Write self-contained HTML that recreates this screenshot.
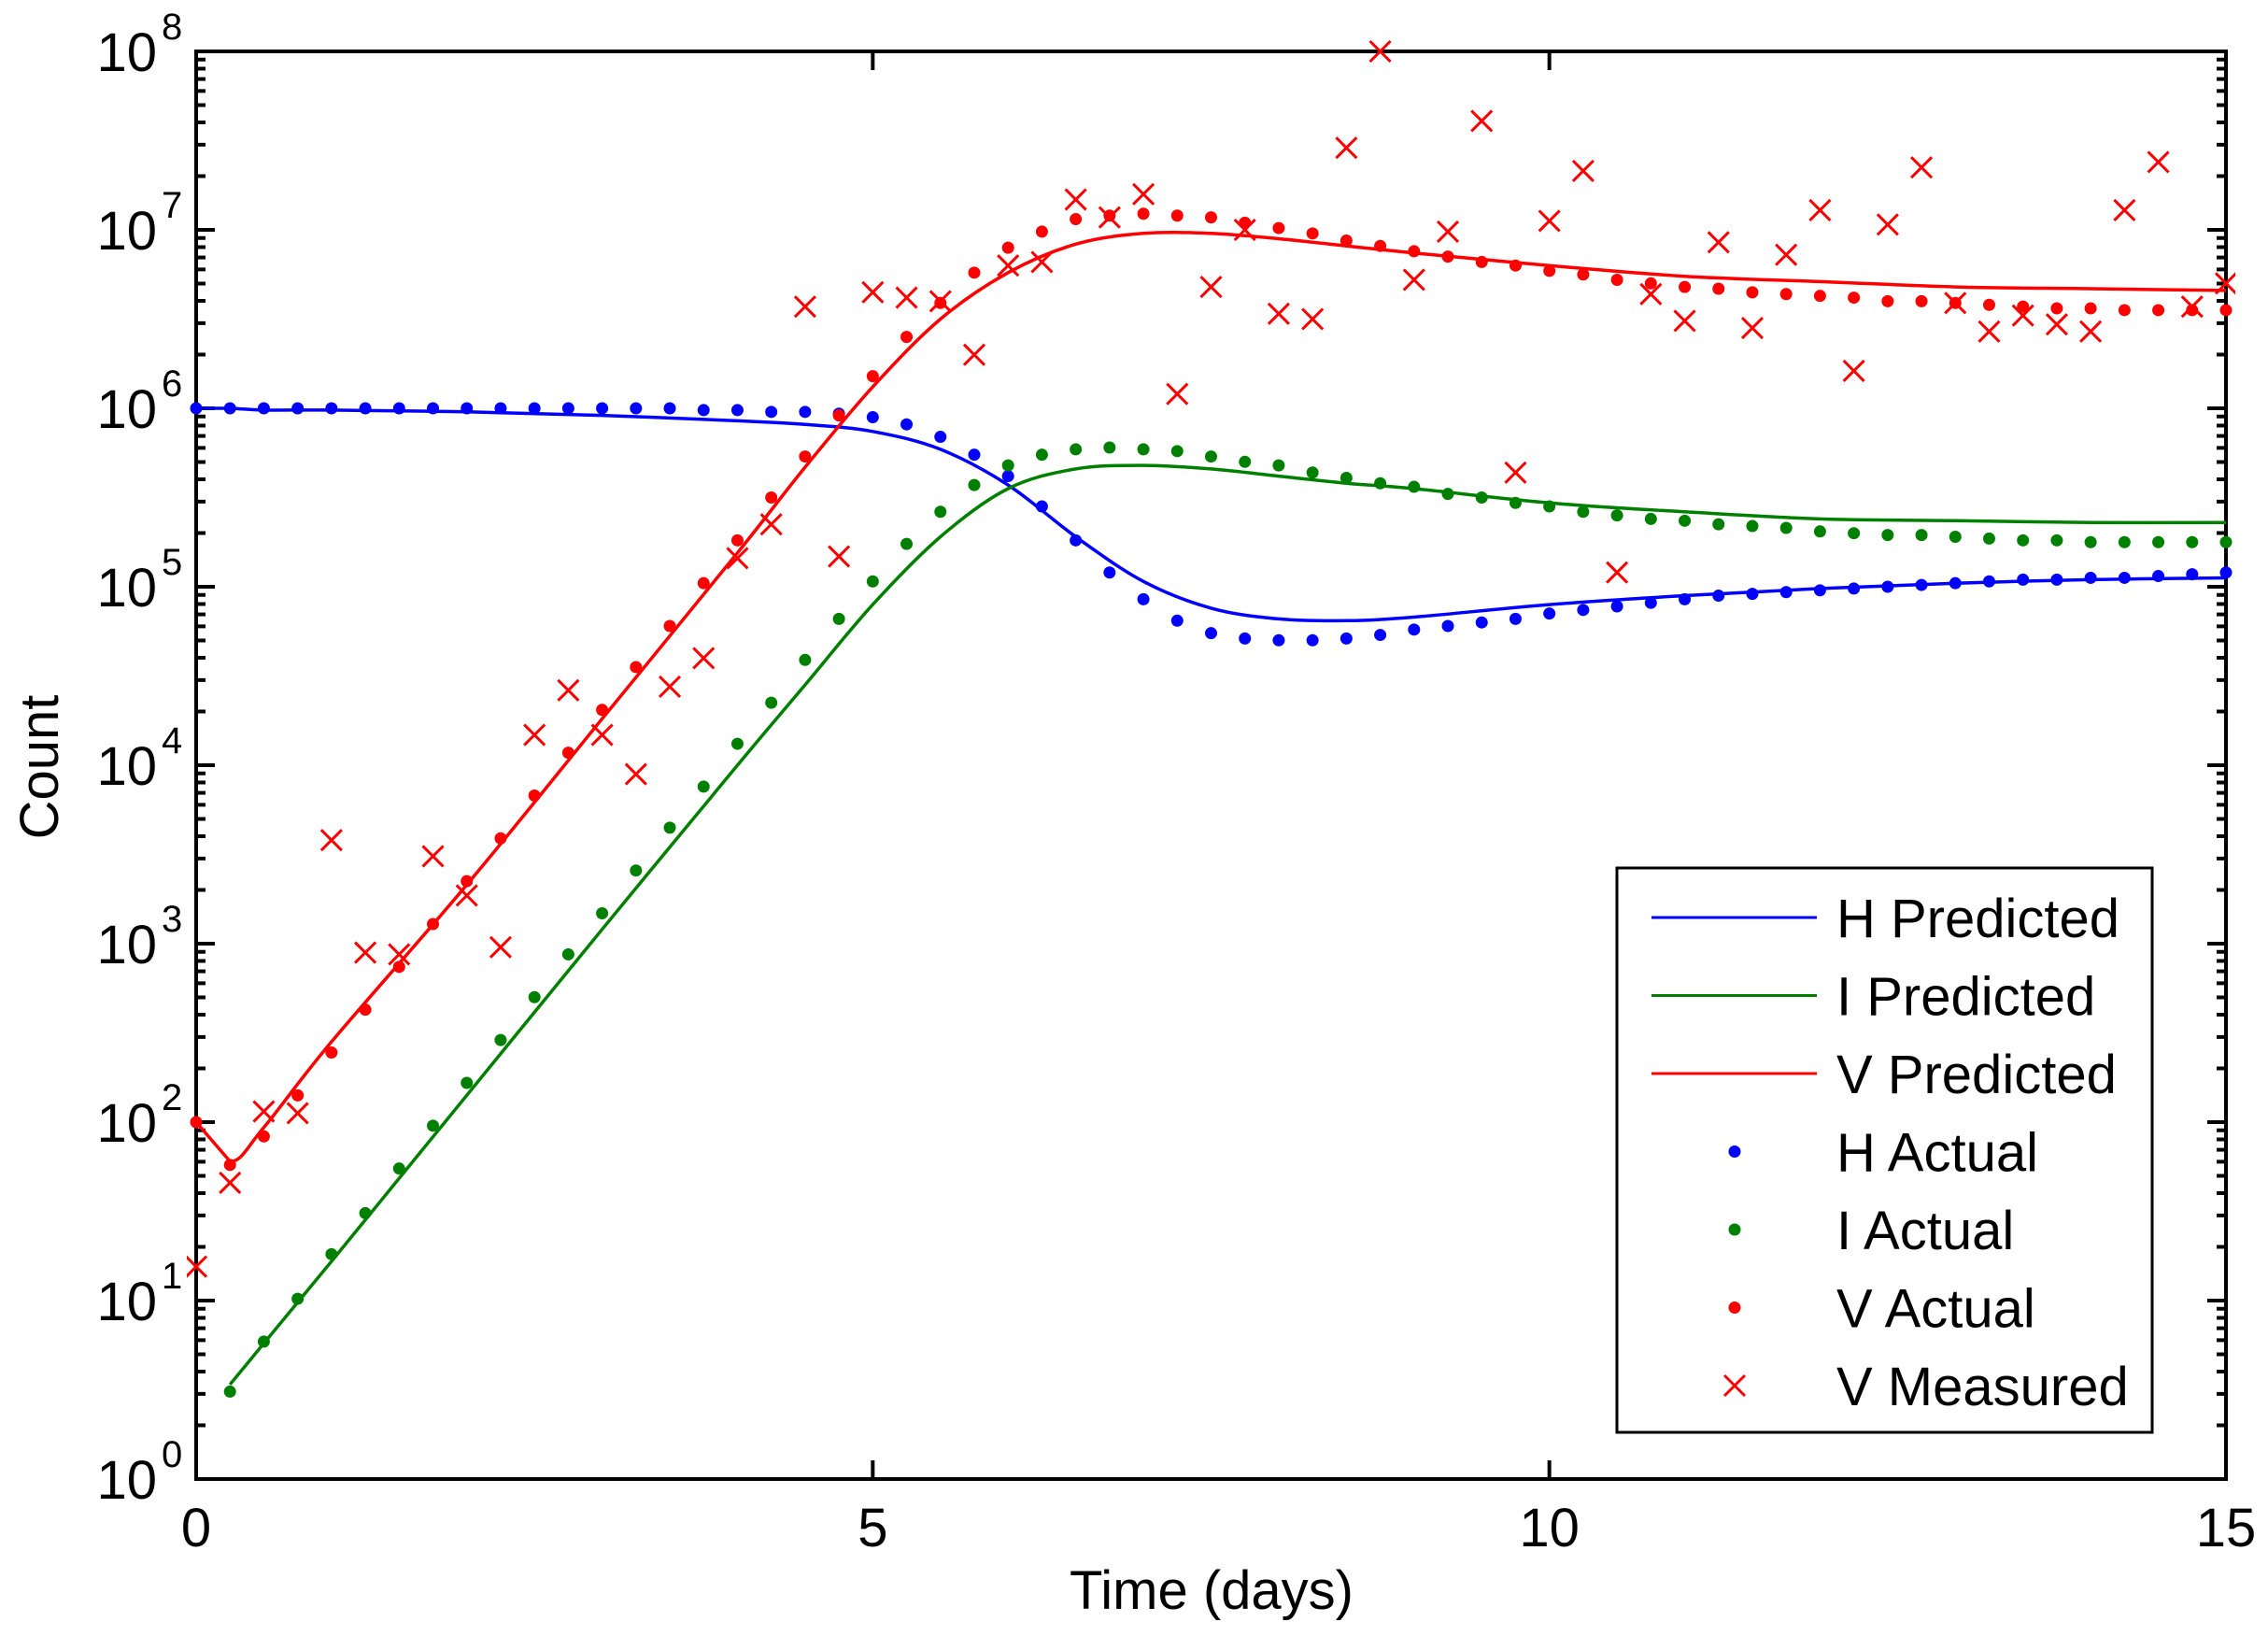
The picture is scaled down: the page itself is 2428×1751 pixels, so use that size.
<!DOCTYPE html>
<html><head><meta charset="utf-8"><style>
html,body{margin:0;padding:0;background:#fff;}
svg{display:block;font-family:"Liberation Sans",Arial,sans-serif;}
</style></head><body>
<svg id="chart" width="2428" height="1751" viewBox="0 0 2428 1751" xmlns="http://www.w3.org/2000/svg">
<rect x="0" y="0" width="2428" height="1751" fill="#fff"/>
<g id="axes"></g>
<g id="series"></g>
<g id="legend"></g>
<text x="1297" y="1722" font-size="58" text-anchor="middle">Time (days)</text>
<text x="0" y="0" font-size="58" text-anchor="middle" transform="translate(62,821) rotate(-90)">Count</text>
</svg>
<script>
// ---- data (log10 of counts) ----
const tStep = 0.25;
const xTicks = [0, 5, 10, 15];
const yDecades = [0, 1, 2, 3, 4, 5, 6, 7, 8];
const predT = [0,0.25,0.5,1,2,3,4,4.5,5,5.5,6,6.5,7,7.5,8,8.5,9,10,11,12,13,14,15];
const hPredLog = [6.0,6.0,5.99,5.99,5.98,5.96,5.93,5.91,5.87,5.77,5.57,5.28,5.03,4.88,4.82,4.81,4.83,4.90,4.95,4.99,5.02,5.04,5.05];
const iPredLog = [null,0.53,0.76,1.22,2.15,3.08,4.0,4.45,4.9,5.28,5.55,5.66,5.68,5.66,5.62,5.58,5.55,5.47,5.42,5.38,5.37,5.36,5.36];
const vPredLog = [2.0,1.78,1.97,2.45,3.33,4.26,5.19,5.67,6.12,6.5,6.76,6.92,6.98,6.98,6.95,6.91,6.87,6.80,6.74,6.71,6.68,6.67,6.66];
const hActualLog = [6.0,6.0,6.0,6.0,6.0,6.0,6.0,6.0,6.0,6.0,6.0,6.0,6.0,6.0,6.0,5.99,5.99,5.98,5.98,
 5.97,5.95,5.91,5.84,5.74,5.62,5.45,5.26,5.08,4.93,4.81,4.74,4.71,4.70,4.70,4.71,4.73,4.76,4.78,4.80,
 4.82,4.85,4.87,4.89,4.91,4.93,4.95,4.96,4.97,4.98,4.99,5.00,5.01,5.02,5.03,5.04,5.04,5.05,5.05,5.06,5.07,5.08];
const iActualLog = [null,0.49,0.77,1.01,1.26,1.49,1.74,1.98,2.22,2.46,2.70,2.94,3.17,3.41,3.65,3.88,4.12,4.35,4.59,4.82,
 5.03,5.24,5.42,5.57,5.68,5.74,5.77,5.78,5.77,5.76,5.73,5.70,5.68,5.64,5.61,5.58,5.56,5.52,5.50,5.47,
 5.45,5.42,5.40,5.38,5.37,5.35,5.34,5.33,5.31,5.30,5.29,5.29,5.28,5.27,5.26,5.26,5.25,5.25,5.25,5.25,5.25];
const vActualLog = [2.0,1.76,1.92,2.15,2.39,2.63,2.87,3.11,3.35,3.59,3.83,4.07,4.31,4.55,4.78,5.02,5.26,5.50,5.73,5.96,
 6.18,6.40,6.59,6.76,6.90,6.99,7.06,7.08,7.09,7.08,7.07,7.04,7.01,6.98,6.94,6.91,6.88,6.85,6.82,6.80,
 6.77,6.75,6.72,6.70,6.68,6.67,6.65,6.64,6.63,6.62,6.60,6.60,6.59,6.58,6.57,6.56,6.56,6.55,6.55,6.55,6.55];
const vMeasLog = [1.19,1.66,2.06,2.05,3.58,2.95,2.94,3.49,3.27,2.98,4.17,4.42,4.17,3.95,4.44,4.60,5.16,5.35,6.57,5.17,
 6.65,6.62,6.60,6.30,6.80,6.82,7.17,7.07,7.20,6.08,6.68,7.0,6.53,6.50,7.46,8.0,6.72,6.99,7.61,5.64,
 7.05,7.33,5.08,6.64,6.49,6.93,6.45,6.86,7.11,6.21,7.03,7.35,6.59,6.43,6.52,6.47,6.43,7.11,7.38,6.57,6.70];

// ---- geometry ----
const L=210, R=2383, T=55, B=1583;
const X = t => L + (t/15)*(R-L);
const Y = lg => B - (lg/8)*(B-T);
const NS='http://www.w3.org/2000/svg';
function mk(tag, attrs, parent){ const e=document.createElementNS(NS,tag); for(const k in attrs) e.setAttribute(k,attrs[k]); parent.appendChild(e); return e; }

const axes=document.getElementById('axes');
const frame=mk('rect',{x:L,y:T,width:R-L,height:B-T,fill:'none',stroke:'#000','stroke-width':4},axes);


xTicks.forEach(t=>{
  const x=X(t);
  const a=mk('line',{x1:x,y1:B,x2:x,y2:B-20,stroke:'#000','stroke-width':4},axes);
  
  
  const b=mk('line',{x1:x,y1:T,x2:x,y2:T+20,stroke:'#000','stroke-width':4},axes);
  
  
  const tx=mk('text',{x:x,y:1655,'font-size':58,'text-anchor':'middle'},axes);
  tx.textContent=String(t);
  
  
});
yDecades.forEach(d=>{
  const y=Y(d);
  [[L,1],[R,-1]].forEach(([x0,s])=>{
    const m=mk('line',{x1:x0,y1:y,x2:x0+s*20,y2:y,stroke:'#000','stroke-width':4},axes);
    
    
    if(d<8){
      for(let k=2;k<=9;k++){
        const yy=Y(d+Math.log10(k));
        const n=mk('line',{x1:x0,y1:yy,x2:x0+s*10,y2:yy,stroke:'#000','stroke-width':4},axes);
        
        
      }
    }
  });
  const lb=mk('text',{x:168,y:y+21,'font-size':58,'text-anchor':'end'},axes);
  lb.textContent='10';
  
  
  const sp=mk('text',{x:173,y:y-13,'font-size':40},axes);
  sp.textContent=String(d);
  
  
});

// ---- series ----
const series=document.getElementById('series');
const clip=mk('clipPath',{id:'pc'},document.getElementById('chart'));
mk('rect',{x:L-10,y:T-15,width:R-L+20,height:B-T+25},clip);
series.setAttribute('clip-path','url(#pc)');
function line(arr,color,name){
  const pts=[];
  predT.forEach((t,i)=>{ if(arr[i]!==null) pts.push([X(t),Y(arr[i])]); });
  let d='M'+pts[0][0].toFixed(1)+' '+pts[0][1].toFixed(1);
  for(let i=0;i<pts.length-1;i++){
    const p0=pts[Math.max(0,i-1)], p1=pts[i], p2=pts[i+1], p3=pts[Math.min(pts.length-1,i+2)];
    // keep sharp corner at the V dip (first segment) by not smoothing index 0/1 boundary
    const k=(i===0)?0:1/6, k2=(i===0)?0:1/6;
    const c1=[p1[0]+(p2[0]-p0[0])*k, p1[1]+(p2[1]-p0[1])*k];
    const c2=[p2[0]-(p3[0]-p1[0])*k2, p2[1]-(p3[1]-p1[1])*k2];
    d+=`C${c1[0].toFixed(1)} ${c1[1].toFixed(1)} ${c2[0].toFixed(1)} ${c2[1].toFixed(1)} ${p2[0].toFixed(1)} ${p2[1].toFixed(1)}`;
  }
  const p=mk('path',{d:d,fill:'none',stroke:color,'stroke-width':3.5},series);
  
  
}
function dots(arr,color,name){
  arr.forEach((v,i)=>{ if(v===null) return;
    const c=mk('circle',{cx:X(i*tStep),cy:Y(v),r:6.5,fill:color},series);
    
    
  });
}
line(hPredLog,'#0000ff','h-predicted-line');
line(iPredLog,'#008000','i-predicted-line');
line(vPredLog,'#ff0000','v-predicted-line');
dots(hActualLog,'#0000ff','h-actual-point');
dots(iActualLog,'#008000','i-actual-point');
dots(vActualLog,'#ff0000','v-actual-point');
vMeasLog.forEach((v,i)=>{
  const x=X(i*tStep), y=Y(v), s=11;
  const g=mk('path',{d:`M${x-s} ${y-s}L${x+s} ${y+s}M${x-s} ${y+s}L${x+s} ${y-s}`,stroke:'#ff0000','stroke-width':3,fill:'none'},series);
  
  
});

// ---- legend ----
const lg=document.getElementById('legend');
const box=mk('rect',{x:1731,y:929,width:573,height:604,fill:'#fff',stroke:'#000','stroke-width':3},lg);


const entries=[['H Predicted','#0000ff','line'],['I Predicted','#008000','line'],['V Predicted','#ff0000','line'],
 ['H Actual','#0000ff','dot'],['I Actual','#008000','dot'],['V Actual','#ff0000','dot'],['V Measured','#ff0000','x']];
entries.forEach((e,i)=>{
  const y=982+i*83.5;
  let m;
  if(e[2]==='line') m=mk('line',{x1:1768,y1:y,x2:1945,y2:y,stroke:e[1],'stroke-width':3},lg);
  else if(e[2]==='dot') m=mk('circle',{cx:1857,cy:y,r:6.5,fill:e[1]},lg);
  else m=mk('path',{d:`M1846 ${y-11}L1868 ${y+11}M1846 ${y+11}L1868 ${y-11}`,stroke:e[1],'stroke-width':3},lg);
  
  
  const t=mk('text',{x:1966,y:y+21,'font-size':58},lg);
  t.textContent=e[0];
  
  
});
</script>
</body></html>
